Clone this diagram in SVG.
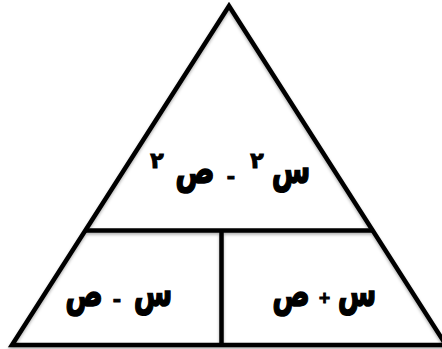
<svg xmlns="http://www.w3.org/2000/svg" width="442" height="349" viewBox="0 0 442 349">
<defs>
<filter id="sh" x="-10%" y="-10%" width="120%" height="130%">
<feDropShadow dx="0" dy="2" stdDeviation="1.5" flood-color="#000" flood-opacity="0.3"/>
</filter>
<style>
.ln{fill:none;stroke:#000;stroke-width:4.5;stroke-linejoin:miter}
.t{font-family:"DejaVu Sans",sans-serif;font-weight:bold;fill:#000;stroke:#000;stroke-width:1.1;text-anchor:middle}
.g{font-size:28px}
.s{font-size:22px}
.m{font-size:20px}
.p{font-size:15px}
</style>
</defs>
<rect width="442" height="349" fill="#fff"/>
<g id="connectors" filter="url(#sh)">
<path class="ln" d="M229,6 L12,345 L446,345 Z"/>
<path class="ln" d="M86,230.5 L374,230.5"/>
<path class="ln" d="M221.5,230.5 L221.5,345"/>
</g>
<g id="top">
<text class="t g" transform="translate(291,183) scale(1,1.43)">س</text>
<text class="t s" x="257" y="168">٢</text>
<text class="t m" x="231" y="183">-</text>
<text class="t g" transform="translate(195,183) scale(1.05,1.43)">ص</text>
<text class="t s" x="157" y="168">٢</text>
</g>
<g id="left">
<text class="t g" transform="translate(153,306) scale(1,1.43)">س</text>
<text class="t m" x="117" y="306">-</text>
<text class="t g" transform="translate(84,306) scale(1,1.43)">ص</text>
</g>
<g id="right">
<text class="t g" transform="translate(357,306) scale(1,1.43)">س</text>
<text class="t p" x="324.5" y="303">+</text>
<text class="t g" transform="translate(291,306) scale(1,1.43)">ص</text>
</g>
</svg>
